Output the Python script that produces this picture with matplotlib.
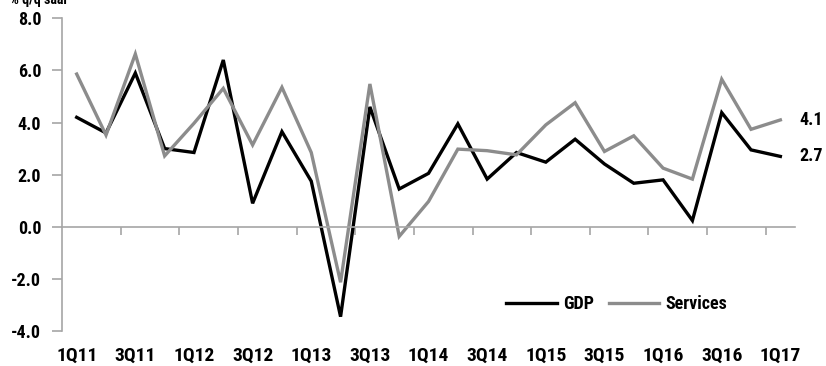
import numpy as np
import matplotlib
matplotlib.use("Agg")
import matplotlib.pyplot as plt
from matplotlib.transforms import blended_transform_factory

# Données : croissance trimestrielle (% q/q saar)
quarters = ["1Q11", "2Q11", "3Q11", "4Q11", "1Q12", "2Q12", "3Q12", "4Q12",
            "1Q13", "2Q13", "3Q13", "4Q13", "1Q14", "2Q14", "3Q14", "4Q14",
            "1Q15", "2Q15", "3Q15", "4Q15", "1Q16", "2Q16", "3Q16", "4Q16", "1Q17"]
gdp = [4.2, 3.6, 5.9, 3.0, 2.85, 6.4, 0.9, 3.65, 1.75, -3.45, 4.6, 1.45, 2.05,
       3.95, 1.83, 2.85, 2.48, 3.36, 2.41, 1.67, 1.8, 0.24, 4.38, 2.95, 2.7]
services = [5.86, 3.52, 6.63, 2.72, 3.97, 5.31, 3.14, 5.35, 2.85, -2.13, 5.48,
            -0.37, 0.97, 2.98, 2.92, 2.76, 3.91, 4.76, 2.89, 3.49, 2.25, 1.83,
            5.66, 3.74, 4.1]
yticks = [-4.0, -2.0, 0.0, 2.0, 4.0, 6.0, 8.0]

plt.rcParams['font.family'] = ['Roboto Condensed', 'DejaVu Sans']
plt.rcParams['font.weight'] = 'bold'
fs = 13

fig = plt.figure(figsize=(8.26, 3.66), dpi=100)
ax = fig.add_axes([0.0751, 0.0956, 0.9625 - 0.0751, 0.95 - 0.0956])

x = np.arange(len(quarters))
ax.plot(x, gdp, color='black', lw=2.4, label='GDP', solid_joinstyle='miter')
ax.plot(x, services, color='#8c8c8c', lw=2.4, label='Services', solid_joinstyle='miter')

ax.set_xlim(-0.5, len(quarters) - 0.5)
ax.set_ylim(-4, 8)

# Axes : axe des x à zéro, étiquettes en bas
axis_col = '#a6a6a6'
for s in ['top', 'right']:
    ax.spines[s].set_visible(False)
ax.spines['left'].set_color(axis_col)
ax.spines['bottom'].set_color(axis_col)
ax.spines['left'].set_linewidth(1.2)
ax.spines['bottom'].set_linewidth(1.2)
ax.spines['bottom'].set_position(('data', 0))

ax.set_yticks(yticks)
ax.set_yticklabels([f"{v:.1f}" for v in yticks], fontsize=fs, fontweight='bold')
ax.tick_params(axis='y', direction='out', length=7, width=1.2, color=axis_col, pad=8)

ax.set_xticks(np.arange(1.5, len(quarters) - 1, 2))
ax.set_xticklabels([])
ax.tick_params(axis='x', direction='out', length=6, width=1.2, color=axis_col)

trans = blended_transform_factory(ax.transData, ax.transAxes)
for i in range(0, len(quarters), 2):
    ax.text(i, -0.078, quarters[i], transform=trans, ha='center', va='center',
            fontsize=14, fontweight='bold')

# Valeurs finales
ax.text(len(quarters) - 0.35, services[-1], f"{services[-1]:.1f}", ha='left',
        va='center', fontsize=fs, fontweight='bold')
ax.text(len(quarters) - 0.35, gdp[-1], f"{gdp[-1]:.1f}", ha='left',
        va='center', fontsize=fs, fontweight='bold')

leg = ax.legend(loc='center', bbox_to_anchor=(0.757, 0.086), ncol=2, frameon=False,
                handlelength=2.8, handletextpad=0.35, columnspacing=0.8,
                borderpad=0, prop={'size': fs, 'weight': 'bold'})

fig.text(0.012, 0.989, "% q/q saar", fontsize=10, va='baseline', ha='left')

fig.savefig('out.png', dpi=100)
